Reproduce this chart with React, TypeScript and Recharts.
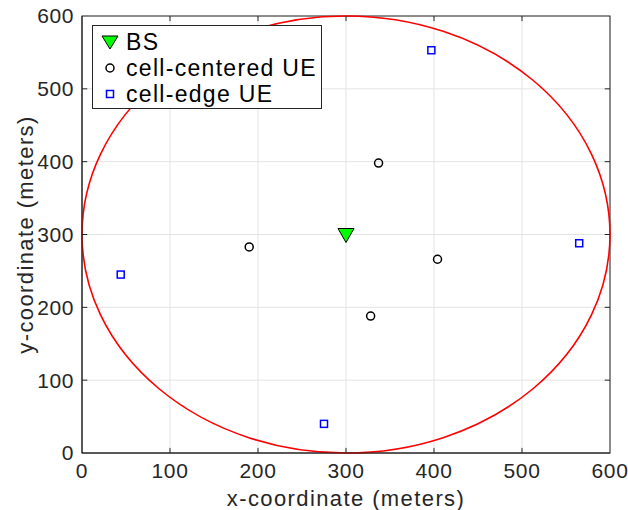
import React from 'react';
import { ScatterChart, Scatter, XAxis, YAxis, CartesianGrid, ReferenceArea, ReferenceLine } from 'recharts';

const xTicks = [0, 100, 200, 300, 400, 500, 600];
const yTicks = [0, 100, 200, 300, 400, 500, 600];

const bsPoints = [{ x: 300, y: 300 }];
const centerUE = [
  { x: 190, y: 283 },
  { x: 337, y: 398 },
  { x: 404, y: 266 },
  { x: 328, y: 188 },
];
const edgeUE = [
  { x: 44, y: 245 },
  { x: 397, y: 553 },
  { x: 565, y: 288 },
  { x: 275, y: 40 },
];
const cellCenter = { x: 300, y: 300 };
const cellRadius = 300;

const legendItems = ['BS', 'cell-centered UE', 'cell-edge UE'];

const font = '"Liberation Sans", Arial, Helvetica, sans-serif';
const textColor = '#262626';
// inward tick length, in data units (about 5px each way)
const tickLenX = 6;
const tickLenY = 7;

const Triangle = (p: any) => (
  <path
    d={`M${p.cx - 8},${p.cy - 6} L${p.cx + 8},${p.cy - 6} L${p.cx},${p.cy + 8} Z`}
    fill="#00ff00"
    stroke="#000"
    strokeWidth={1}
  />
);
const Ring = (p: any) => <circle cx={p.cx} cy={p.cy} r={4} fill="none" stroke="#000" strokeWidth={1.5} />;
const Square = (p: any) => (
  <rect x={p.cx - 3.5} y={p.cy - 3.5} width={7} height={7} fill="none" stroke="#0000ff" strokeWidth={1.5} />
);

const Ellipse = (p: any) => (
  <ellipse
    cx={p.x + p.width / 2}
    cy={p.y + p.height / 2}
    rx={p.width / 2}
    ry={p.height / 2}
    fill="none"
    stroke="#ff0000"
    strokeWidth={1.6}
  />
);

const Box = (p: any) => (
  <rect x={p.x} y={p.y} width={p.width} height={p.height} fill="none" stroke={textColor} strokeWidth={1} />
);

const XLabel = (p: any) => {
  const vb = p.viewBox;
  return (
    <text x={vb.x + vb.width / 2} y={498} textAnchor="middle" dominantBaseline="central"
      fill={textColor} fontSize={22} fontFamily={font} letterSpacing={1.4}>
      x-coordinate (meters)
    </text>
  );
};

const YLabel = (p: any) => {
  const vb = p.viewBox;
  const cy = vb.y + vb.height / 2;
  return (
    <text x={25} y={cy} transform={`rotate(-90, 25, ${cy})`} textAnchor="middle" dominantBaseline="central"
      fill={textColor} fontSize={22} fontFamily={font} letterSpacing={1.4}>
      y-coordinate (meters)
    </text>
  );
};

const legendIcon = (i: number) => {
  if (i === 0) return <path d="M2,4 L18,4 L10,17 Z" fill="#00ff00" stroke="#000" strokeWidth={1} />;
  if (i === 1) return <circle cx={10} cy={10} r={4} fill="none" stroke="#000" strokeWidth={1.5} />;
  return <rect x={6.5} y={6.5} width={7} height={7} fill="none" stroke="#0000ff" strokeWidth={1.5} />;
};

export default function App() {
  const innerX = xTicks.slice(1, -1);
  const innerY = yTicks.slice(1, -1);
  return (
    <div style={{ position: 'absolute', left: 0, top: 0, width: 628, height: 510, background: '#fff', fontFamily: font }}>
      <ScatterChart width={628} height={510} margin={{ top: 16, right: 18, left: 0, bottom: 0 }}>
        <CartesianGrid stroke="#e3e3e3" strokeWidth={1} />
        <XAxis
          type="number"
          dataKey="x"
          domain={[0, 600]}
          ticks={xTicks}
          height={57}
          tickLine={false}
          axisLine={{ stroke: textColor }}
          tick={{ fill: textColor, fontSize: 21, fontFamily: font, letterSpacing: 0.6 }}
          tickMargin={4}
          label={<XLabel />}
        />
        <YAxis
          type="number"
          dataKey="y"
          domain={[0, 600]}
          ticks={yTicks}
          width={82}
          tickLine={false}
          axisLine={{ stroke: textColor }}
          tick={{ fill: textColor, fontSize: 21, fontFamily: font, letterSpacing: 0.6 }}
          tickMargin={2}
          label={<YLabel />}
        />
        {innerX.map((t) => (
          <ReferenceLine key={'xb' + t} segment={[{ x: t, y: 0 }, { x: t, y: tickLenY }]} stroke={textColor} />
        ))}
        {innerX.map((t) => (
          <ReferenceLine key={'xt' + t} segment={[{ x: t, y: 600 }, { x: t, y: 600 - tickLenY }]} stroke={textColor} />
        ))}
        {innerY.map((t) => (
          <ReferenceLine key={'yl' + t} segment={[{ x: 0, y: t }, { x: tickLenX, y: t }]} stroke={textColor} />
        ))}
        {innerY.map((t) => (
          <ReferenceLine key={'yr' + t} segment={[{ x: 600, y: t }, { x: 600 - tickLenX, y: t }]} stroke={textColor} />
        ))}
        <ReferenceArea x1={0} x2={600} y1={0} y2={600} shape={Box} ifOverflow="visible" />
        <ReferenceArea
          x1={cellCenter.x - cellRadius}
          x2={cellCenter.x + cellRadius}
          y1={cellCenter.y - cellRadius}
          y2={cellCenter.y + cellRadius}
          shape={Ellipse}
          ifOverflow="visible"
        />
        <Scatter name="BS" data={bsPoints} shape={Triangle} isAnimationActive={false} />
        <Scatter name="cell-centered UE" data={centerUE} shape={Ring} isAnimationActive={false} />
        <Scatter name="cell-edge UE" data={edgeUE} shape={Square} isAnimationActive={false} />
      </ScatterChart>
      <div
        style={{
          position: 'absolute',
          left: 92,
          top: 25,
          width: 230,
          height: 84,
          background: '#fff',
          border: `1px solid ${textColor}`,
          boxSizing: 'border-box',
        }}
      >
        {legendItems.map((name, i) => (
          <div
            key={name}
            style={{ position: 'absolute', left: 7, top: 3 + i * 26, height: 26, display: 'flex', alignItems: 'center' }}
          >
            <svg width={20} height={20} style={{ marginRight: 6 }}>
              {legendIcon(i)}
            </svg>
            <span style={{ fontSize: 23, color: '#000', lineHeight: 1, letterSpacing: 1.3, whiteSpace: 'nowrap' }}>{name}</span>
          </div>
        ))}
      </div>
    </div>
  );
}
